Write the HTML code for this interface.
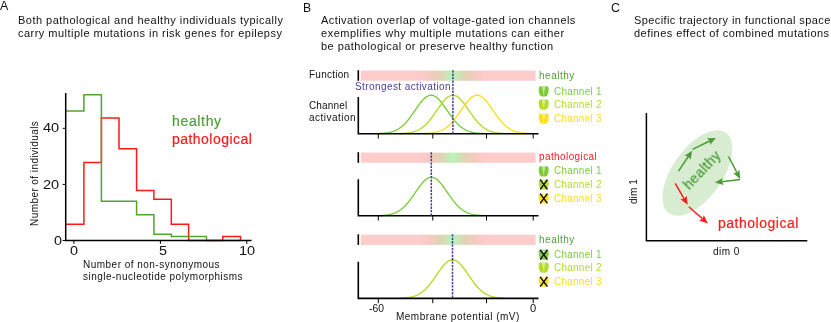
<!DOCTYPE html>
<html><head><meta charset="utf-8"><title>Figure</title>
<style>
html,body{margin:0;padding:0;background:#fff;}
body{width:831px;height:322px;position:relative;overflow:hidden;font-family:"Liberation Sans",sans-serif;}
.t{position:absolute;white-space:nowrap;line-height:normal;will-change:transform;font-family:"Liberation Sans",sans-serif;}
</style></head><body>
<svg width="831" height="322" viewBox="0 0 831 322" style="position:absolute;left:0;top:0">
<defs><linearGradient id="fg" gradientUnits="userSpaceOnUse" x1="412.7" y1="0" x2="492.7" y2="0">
<stop offset="0.0000" stop-color="rgb(255, 204, 204)"/>
<stop offset="0.0250" stop-color="rgb(255, 204, 204)"/>
<stop offset="0.1000" stop-color="rgb(254, 203, 203)"/>
<stop offset="0.1500" stop-color="rgb(251, 202, 200)"/>
<stop offset="0.2000" stop-color="rgb(246, 202, 195)"/>
<stop offset="0.2500" stop-color="rgb(240, 204, 190)"/>
<stop offset="0.3000" stop-color="rgb(232, 207, 185)"/>
<stop offset="0.3500" stop-color="rgb(222, 212, 182)"/>
<stop offset="0.4000" stop-color="rgb(213, 222, 182)"/>
<stop offset="0.4500" stop-color="rgb(198, 232, 184)"/>
<stop offset="0.4750" stop-color="rgb(188, 240, 185)"/>
<stop offset="0.5000" stop-color="rgb(178, 248, 186)"/>
<stop offset="0.5250" stop-color="rgb(188, 240, 185)"/>
<stop offset="0.5500" stop-color="rgb(198, 232, 184)"/>
<stop offset="0.6000" stop-color="rgb(213, 222, 182)"/>
<stop offset="0.6500" stop-color="rgb(222, 212, 182)"/>
<stop offset="0.7000" stop-color="rgb(232, 207, 185)"/>
<stop offset="0.7500" stop-color="rgb(240, 204, 190)"/>
<stop offset="0.8000" stop-color="rgb(246, 202, 195)"/>
<stop offset="0.8500" stop-color="rgb(251, 202, 200)"/>
<stop offset="0.9000" stop-color="rgb(254, 203, 203)"/>
<stop offset="0.9750" stop-color="rgb(255, 204, 204)"/>
<stop offset="1.0000" stop-color="rgb(255, 204, 204)"/>
</linearGradient></defs>
<path d="M66.00,224.23 L66.00,224.23 L83.90,224.23 L83.90,162.52 L101.40,162.52 L101.40,117.92 L119.00,117.92 L119.00,148.78 L136.60,148.78 L136.60,190.57 L153.90,190.57 L153.90,199.27 L171.30,199.27 L171.30,224.23 L188.60,224.23 L188.60,240.50 L206.50,240.50 L206.50,240.50 L222.80,240.50 L222.80,236.57 L240.50,236.57 L240.5,240.5" fill="none" stroke="#ff1a1a" stroke-width="1.5" stroke-linejoin="miter"/>
<path d="M66.00,110.91 L66.00,110.91 L83.90,110.91 L83.90,94.64 L101.40,94.64 L101.40,201.23 L119.00,201.23 L119.00,201.23 L136.60,201.23 L136.60,214.69 L153.90,214.69 L153.90,234.33 L171.30,234.33 L171.30,236.57 L188.60,236.57 L188.60,236.57 L206.50,236.57 L206.50,240.50 L222.80,240.50 L222.80,240.50 L240.50,240.50" fill="none" stroke="#54a234" stroke-width="1.5" stroke-linejoin="miter"/>
<path d="M65.7,93 L65.7,241.2 M65,240.5 L251.5,240.5" stroke="#000" stroke-width="1.5" fill="none"/>
<line x1="62.6" y1="128.3" x2="65.7" y2="128.3" stroke="#000" stroke-width="1"/>
<line x1="62.6" y1="184.4" x2="65.7" y2="184.4" stroke="#000" stroke-width="1"/>
<line x1="62.6" y1="240.5" x2="65.7" y2="240.5" stroke="#000" stroke-width="1"/>
<line x1="73.9" y1="240.5" x2="73.9" y2="243.9" stroke="#000" stroke-width="1"/>
<line x1="160.4" y1="240.5" x2="160.4" y2="243.9" stroke="#000" stroke-width="1"/>
<line x1="246.8" y1="240.5" x2="246.8" y2="243.9" stroke="#000" stroke-width="1"/>
<rect x="360.8" y="70.60" width="174.8" height="10.15" fill="url(#fg)"/>
<line x1="358.3" y1="70.20" x2="358.3" y2="80.80" stroke="#000" stroke-width="1.6"/>
<path d="M378.3,133.53 L379.3,133.50 L380.3,133.45 L381.3,133.40 L382.3,133.33 L383.3,133.26 L384.3,133.17 L385.3,133.06 L386.3,132.94 L387.3,132.79 L388.3,132.62 L389.3,132.43 L390.3,132.21 L391.3,131.95 L392.3,131.67 L393.3,131.34 L394.3,130.97 L395.3,130.55 L396.3,130.08 L397.3,129.57 L398.3,128.99 L399.3,128.36 L400.3,127.66 L401.3,126.90 L402.3,126.08 L403.3,125.19 L404.3,124.23 L405.3,123.21 L406.3,122.12 L407.3,120.97 L408.3,119.75 L409.3,118.48 L410.3,117.16 L411.3,115.80 L412.3,114.40 L413.3,112.96 L414.3,111.52 L415.3,110.06 L416.3,108.60 L417.3,107.16 L418.3,105.74 L419.3,104.37 L420.3,103.04 L421.3,101.78 L422.3,100.60 L423.3,99.51 L424.3,98.52 L425.3,97.65 L426.3,96.89 L427.3,96.27 L428.3,95.79 L429.3,95.44 L430.3,95.25 L431.3,95.20 L432.3,95.31 L433.3,95.56 L434.3,95.96 L435.3,96.50 L436.3,97.18 L437.3,97.98 L438.3,98.91 L439.3,99.94 L440.3,101.07 L441.3,102.28 L442.3,103.57 L443.3,104.91 L444.3,106.31 L445.3,107.73 L446.3,109.18 L447.3,110.64 L448.3,112.10 L449.3,113.54 L450.3,114.96 L451.3,116.35 L452.3,117.70 L453.3,119.00 L454.3,120.24 L455.3,121.43 L456.3,122.56 L457.3,123.63 L458.3,124.62 L459.3,125.55 L460.3,126.42 L461.3,127.22 L462.3,127.95 L463.3,128.62 L464.3,129.23 L465.3,129.78 L466.3,130.28 L467.3,130.72 L468.3,131.12 L469.3,131.47 L470.3,131.79 L471.3,132.06 L472.3,132.30 L473.3,132.51 L474.3,132.69 L475.3,132.85 L476.3,132.99 L477.3,133.10 L478.3,133.20 L479.3,133.29 L480.3,133.36 L481.3,133.42 L482.3,133.47 L483.3,133.51" fill="none" stroke="#7dcd3c" stroke-width="1.4"/>
<path d="M400.1,133.53 L401.1,133.50 L402.1,133.45 L403.1,133.40 L404.1,133.33 L405.1,133.26 L406.1,133.17 L407.1,133.06 L408.1,132.94 L409.1,132.79 L410.1,132.62 L411.1,132.43 L412.1,132.21 L413.1,131.95 L414.1,131.67 L415.1,131.34 L416.1,130.97 L417.1,130.55 L418.1,130.08 L419.1,129.57 L420.1,128.99 L421.1,128.36 L422.1,127.66 L423.1,126.90 L424.1,126.08 L425.1,125.19 L426.1,124.23 L427.1,123.21 L428.1,122.12 L429.1,120.97 L430.1,119.75 L431.1,118.48 L432.1,117.16 L433.1,115.80 L434.1,114.40 L435.1,112.96 L436.1,111.52 L437.1,110.06 L438.1,108.60 L439.1,107.16 L440.1,105.74 L441.1,104.37 L442.1,103.04 L443.1,101.78 L444.1,100.60 L445.1,99.51 L446.1,98.52 L447.1,97.65 L448.1,96.89 L449.1,96.27 L450.1,95.79 L451.1,95.44 L452.1,95.25 L453.1,95.20 L454.1,95.31 L455.1,95.56 L456.1,95.96 L457.1,96.50 L458.1,97.18 L459.1,97.98 L460.1,98.91 L461.1,99.94 L462.1,101.07 L463.1,102.28 L464.1,103.57 L465.1,104.91 L466.1,106.31 L467.1,107.73 L468.1,109.18 L469.1,110.64 L470.1,112.10 L471.1,113.54 L472.1,114.96 L473.1,116.35 L474.1,117.70 L475.1,119.00 L476.1,120.24 L477.1,121.43 L478.1,122.56 L479.1,123.63 L480.1,124.62 L481.1,125.55 L482.1,126.42 L483.1,127.22 L484.1,127.95 L485.1,128.62 L486.1,129.23 L487.1,129.78 L488.1,130.28 L489.1,130.72 L490.1,131.12 L491.1,131.47 L492.1,131.79 L493.1,132.06 L494.1,132.30 L495.1,132.51 L496.1,132.69 L497.1,132.85 L498.1,132.99 L499.1,133.10 L500.1,133.20 L501.1,133.29 L502.1,133.36 L503.1,133.42 L504.1,133.47 L505.1,133.51" fill="none" stroke="#b4dc28" stroke-width="1.4"/>
<path d="M424.2,133.53 L425.2,133.50 L426.2,133.45 L427.2,133.40 L428.2,133.33 L429.2,133.26 L430.2,133.17 L431.2,133.06 L432.2,132.94 L433.2,132.79 L434.2,132.62 L435.2,132.43 L436.2,132.21 L437.2,131.95 L438.2,131.67 L439.2,131.34 L440.2,130.97 L441.2,130.55 L442.2,130.08 L443.2,129.57 L444.2,128.99 L445.2,128.36 L446.2,127.66 L447.2,126.90 L448.2,126.08 L449.2,125.19 L450.2,124.23 L451.2,123.21 L452.2,122.12 L453.2,120.97 L454.2,119.75 L455.2,118.48 L456.2,117.16 L457.2,115.80 L458.2,114.40 L459.2,112.96 L460.2,111.52 L461.2,110.06 L462.2,108.60 L463.2,107.16 L464.2,105.74 L465.2,104.37 L466.2,103.04 L467.2,101.78 L468.2,100.60 L469.2,99.51 L470.2,98.52 L471.2,97.65 L472.2,96.89 L473.2,96.27 L474.2,95.79 L475.2,95.44 L476.2,95.25 L477.2,95.20 L478.2,95.31 L479.2,95.56 L480.2,95.96 L481.2,96.50 L482.2,97.18 L483.2,97.98 L484.2,98.91 L485.2,99.94 L486.2,101.07 L487.2,102.28 L488.2,103.57 L489.2,104.91 L490.2,106.31 L491.2,107.73 L492.2,109.18 L493.2,110.64 L494.2,112.10 L495.2,113.54 L496.2,114.96 L497.2,116.35 L498.2,117.70 L499.2,119.00 L500.2,120.24 L501.2,121.43 L502.2,122.56 L503.2,123.63 L504.2,124.62 L505.2,125.55 L506.2,126.42 L507.2,127.22 L508.2,127.95 L509.2,128.62 L510.2,129.23 L511.2,129.78 L512.2,130.28 L513.2,130.72 L514.2,131.12 L515.2,131.47 L516.2,131.79 L517.2,132.06 L518.2,132.30 L519.2,132.51 L520.2,132.69 L521.2,132.85 L522.2,132.99 L523.2,133.10 L524.2,133.20 L525.2,133.29 L526.2,133.36 L527.2,133.42 L528.2,133.47 L529.2,133.51" fill="none" stroke="#fbe01e" stroke-width="1.4"/>
<path d="M358.3,97.10 L358.3,134.50 M357.5,133.70 L538.5,133.70" stroke="#000" stroke-width="1.6" fill="none"/>
<line x1="378.3" y1="133.70" x2="378.3" y2="138.50" stroke="#000" stroke-width="1"/>
<line x1="432.8" y1="133.70" x2="432.8" y2="138.50" stroke="#000" stroke-width="1"/>
<line x1="486.5" y1="133.70" x2="486.5" y2="138.50" stroke="#000" stroke-width="1"/>
<line x1="533.2" y1="133.70" x2="533.2" y2="138.50" stroke="#000" stroke-width="1"/>
<line x1="452.9" y1="70.20" x2="452.9" y2="133.70" stroke="#463a93" stroke-width="1.5" stroke-dasharray="2.3 1.1"/>
<rect x="360.8" y="152.60" width="174.8" height="10.15" fill="url(#fg)"/>
<line x1="358.3" y1="152.20" x2="358.3" y2="162.80" stroke="#000" stroke-width="1.6"/>
<path d="M378.6,215.63 L379.6,215.60 L380.6,215.55 L381.6,215.50 L382.6,215.43 L383.6,215.36 L384.6,215.27 L385.6,215.16 L386.6,215.04 L387.6,214.89 L388.6,214.72 L389.6,214.53 L390.6,214.31 L391.6,214.05 L392.6,213.77 L393.6,213.44 L394.6,213.07 L395.6,212.65 L396.6,212.18 L397.6,211.67 L398.6,211.09 L399.6,210.46 L400.6,209.76 L401.6,209.00 L402.6,208.18 L403.6,207.29 L404.6,206.33 L405.6,205.31 L406.6,204.22 L407.6,203.07 L408.6,201.85 L409.6,200.58 L410.6,199.26 L411.6,197.90 L412.6,196.50 L413.6,195.06 L414.6,193.62 L415.6,192.16 L416.6,190.70 L417.6,189.26 L418.6,187.84 L419.6,186.47 L420.6,185.14 L421.6,183.88 L422.6,182.70 L423.6,181.61 L424.6,180.62 L425.6,179.75 L426.6,178.99 L427.6,178.37 L428.6,177.89 L429.6,177.54 L430.6,177.35 L431.6,177.30 L432.6,177.41 L433.6,177.66 L434.6,178.06 L435.6,178.60 L436.6,179.28 L437.6,180.08 L438.6,181.01 L439.6,182.04 L440.6,183.17 L441.6,184.38 L442.6,185.67 L443.6,187.01 L444.6,188.41 L445.6,189.83 L446.6,191.28 L447.6,192.74 L448.6,194.20 L449.6,195.64 L450.6,197.06 L451.6,198.45 L452.6,199.80 L453.6,201.10 L454.6,202.34 L455.6,203.53 L456.6,204.66 L457.6,205.73 L458.6,206.72 L459.6,207.65 L460.6,208.52 L461.6,209.32 L462.6,210.05 L463.6,210.72 L464.6,211.33 L465.6,211.88 L466.6,212.38 L467.6,212.82 L468.6,213.22 L469.6,213.57 L470.6,213.89 L471.6,214.16 L472.6,214.40 L473.6,214.61 L474.6,214.79 L475.6,214.95 L476.6,215.09 L477.6,215.20 L478.6,215.30 L479.6,215.39 L480.6,215.46 L481.6,215.52 L482.6,215.57 L483.6,215.61" fill="none" stroke="#7dcd3c" stroke-width="1.4"/>
<path d="M358.3,179.20 L358.3,216.60 M357.5,215.80 L538.5,215.80" stroke="#000" stroke-width="1.6" fill="none"/>
<line x1="378.3" y1="215.80" x2="378.3" y2="220.60" stroke="#000" stroke-width="1"/>
<line x1="432.8" y1="215.80" x2="432.8" y2="220.60" stroke="#000" stroke-width="1"/>
<line x1="486.5" y1="215.80" x2="486.5" y2="220.60" stroke="#000" stroke-width="1"/>
<line x1="533.2" y1="215.80" x2="533.2" y2="220.60" stroke="#000" stroke-width="1"/>
<line x1="431.3" y1="152.20" x2="431.3" y2="215.80" stroke="#463a93" stroke-width="1.5" stroke-dasharray="2.3 1.1"/>
<rect x="360.8" y="234.70" width="174.8" height="10.15" fill="url(#fg)"/>
<line x1="358.3" y1="234.30" x2="358.3" y2="244.90" stroke="#000" stroke-width="1.6"/>
<path d="M399.7,298.23 L400.7,298.20 L401.7,298.15 L402.7,298.10 L403.7,298.03 L404.7,297.96 L405.7,297.87 L406.7,297.76 L407.7,297.64 L408.7,297.49 L409.7,297.32 L410.7,297.13 L411.7,296.91 L412.7,296.65 L413.7,296.37 L414.7,296.04 L415.7,295.67 L416.7,295.25 L417.7,294.78 L418.7,294.27 L419.7,293.69 L420.7,293.06 L421.7,292.36 L422.7,291.60 L423.7,290.78 L424.7,289.89 L425.7,288.93 L426.7,287.91 L427.7,286.82 L428.7,285.67 L429.7,284.45 L430.7,283.18 L431.7,281.86 L432.7,280.50 L433.7,279.10 L434.7,277.66 L435.7,276.22 L436.7,274.76 L437.7,273.30 L438.7,271.86 L439.7,270.44 L440.7,269.07 L441.7,267.74 L442.7,266.48 L443.7,265.30 L444.7,264.21 L445.7,263.22 L446.7,262.35 L447.7,261.59 L448.7,260.97 L449.7,260.49 L450.7,260.14 L451.7,259.95 L452.7,259.90 L453.7,260.01 L454.7,260.26 L455.7,260.66 L456.7,261.20 L457.7,261.88 L458.7,262.68 L459.7,263.61 L460.7,264.64 L461.7,265.77 L462.7,266.98 L463.7,268.27 L464.7,269.61 L465.7,271.01 L466.7,272.43 L467.7,273.88 L468.7,275.34 L469.7,276.80 L470.7,278.24 L471.7,279.66 L472.7,281.05 L473.7,282.40 L474.7,283.70 L475.7,284.94 L476.7,286.13 L477.7,287.26 L478.7,288.33 L479.7,289.32 L480.7,290.25 L481.7,291.12 L482.7,291.92 L483.7,292.65 L484.7,293.32 L485.7,293.93 L486.7,294.48 L487.7,294.98 L488.7,295.42 L489.7,295.82 L490.7,296.17 L491.7,296.49 L492.7,296.76 L493.7,297.00 L494.7,297.21 L495.7,297.39 L496.7,297.55 L497.7,297.69 L498.7,297.80 L499.7,297.90 L500.7,297.99 L501.7,298.06 L502.7,298.12 L503.7,298.17 L504.7,298.21" fill="none" stroke="#b4dc28" stroke-width="1.4"/>
<path d="M358.3,261.80 L358.3,299.20 M357.5,298.40 L538.5,298.40" stroke="#000" stroke-width="1.6" fill="none"/>
<line x1="378.3" y1="298.40" x2="378.3" y2="303.20" stroke="#000" stroke-width="1"/>
<line x1="432.8" y1="298.40" x2="432.8" y2="303.20" stroke="#000" stroke-width="1"/>
<line x1="486.5" y1="298.40" x2="486.5" y2="303.20" stroke="#000" stroke-width="1"/>
<line x1="533.2" y1="298.40" x2="533.2" y2="303.20" stroke="#000" stroke-width="1"/>
<line x1="452.5" y1="234.30" x2="452.5" y2="298.40" stroke="#463a93" stroke-width="1.5" stroke-dasharray="2.3 1.1"/>
<g transform="translate(538.40,86.20) scale(1,0.98)"><path d="M0.3,2.3 Q0.3,0.1 2.5,0.1 L8.1,0.1 Q10.3,0.1 10.3,2.3 Q10.5,6 9.3,8.8 Q8.6,10.5 7.0,10.5 L3.6,10.5 Q2.0,10.5 1.3,8.8 Q0.1,6 0.3,2.3 Z" fill="#7dcd3c"/><path d="M3.5,0.1 L7.1,0.1 L5.55,7.6 L5.05,7.6 Z" fill="#fff" fill-opacity="0.5"/><path d="M5.3,7.2 L5.3,10.5" stroke="#fff" stroke-opacity="0.35" stroke-width="0.6" fill="none"/></g>
<g transform="translate(538.40,99.50) scale(1,0.98)"><path d="M0.3,2.3 Q0.3,0.1 2.5,0.1 L8.1,0.1 Q10.3,0.1 10.3,2.3 Q10.5,6 9.3,8.8 Q8.6,10.5 7.0,10.5 L3.6,10.5 Q2.0,10.5 1.3,8.8 Q0.1,6 0.3,2.3 Z" fill="#b4dc28"/><path d="M3.5,0.1 L7.1,0.1 L5.55,7.6 L5.05,7.6 Z" fill="#fff" fill-opacity="0.5"/><path d="M5.3,7.2 L5.3,10.5" stroke="#fff" stroke-opacity="0.35" stroke-width="0.6" fill="none"/></g>
<g transform="translate(538.40,113.40) scale(1,0.98)"><path d="M0.3,2.3 Q0.3,0.1 2.5,0.1 L8.1,0.1 Q10.3,0.1 10.3,2.3 Q10.5,6 9.3,8.8 Q8.6,10.5 7.0,10.5 L3.6,10.5 Q2.0,10.5 1.3,8.8 Q0.1,6 0.3,2.3 Z" fill="#fbe01e"/><path d="M3.5,0.1 L7.1,0.1 L5.55,7.6 L5.05,7.6 Z" fill="#fff" fill-opacity="0.5"/><path d="M5.3,7.2 L5.3,10.5" stroke="#fff" stroke-opacity="0.35" stroke-width="0.6" fill="none"/></g>
<g transform="translate(538.40,166.20) scale(1,0.98)"><path d="M0.3,2.3 Q0.3,0.1 2.5,0.1 L8.1,0.1 Q10.3,0.1 10.3,2.3 Q10.5,6 9.3,8.8 Q8.6,10.5 7.0,10.5 L3.6,10.5 Q2.0,10.5 1.3,8.8 Q0.1,6 0.3,2.3 Z" fill="#7dcd3c"/><path d="M3.5,0.1 L7.1,0.1 L5.55,7.6 L5.05,7.6 Z" fill="#fff" fill-opacity="0.5"/><path d="M5.3,7.2 L5.3,10.5" stroke="#fff" stroke-opacity="0.35" stroke-width="0.6" fill="none"/></g>
<g transform="translate(538.40,179.30) scale(1,0.98)"><path d="M0.3,2.3 Q0.3,0.1 2.5,0.1 L8.1,0.1 Q10.3,0.1 10.3,2.3 Q10.5,6 9.3,8.8 Q8.6,10.5 7.0,10.5 L3.6,10.5 Q2.0,10.5 1.3,8.8 Q0.1,6 0.3,2.3 Z" fill="#b4dc28"/><path d="M3.5,0.1 L7.1,0.1 L5.55,7.6 L5.05,7.6 Z" fill="#fff" fill-opacity="0.5"/><path d="M5.3,7.2 L5.3,10.5" stroke="#fff" stroke-opacity="0.35" stroke-width="0.6" fill="none"/><path d="M1.8,0.3 L9.0,10.3 M9.0,0.3 L1.8,10.3" stroke="#000" stroke-width="1.35" fill="none"/></g>
<g transform="translate(538.40,193.30) scale(1,0.98)"><path d="M0.3,2.3 Q0.3,0.1 2.5,0.1 L8.1,0.1 Q10.3,0.1 10.3,2.3 Q10.5,6 9.3,8.8 Q8.6,10.5 7.0,10.5 L3.6,10.5 Q2.0,10.5 1.3,8.8 Q0.1,6 0.3,2.3 Z" fill="#fbe01e"/><path d="M3.5,0.1 L7.1,0.1 L5.55,7.6 L5.05,7.6 Z" fill="#fff" fill-opacity="0.5"/><path d="M5.3,7.2 L5.3,10.5" stroke="#fff" stroke-opacity="0.35" stroke-width="0.6" fill="none"/><path d="M1.8,0.3 L9.0,10.3 M9.0,0.3 L1.8,10.3" stroke="#000" stroke-width="1.35" fill="none"/></g>
<g transform="translate(538.40,249.50) scale(1,0.98)"><path d="M0.3,2.3 Q0.3,0.1 2.5,0.1 L8.1,0.1 Q10.3,0.1 10.3,2.3 Q10.5,6 9.3,8.8 Q8.6,10.5 7.0,10.5 L3.6,10.5 Q2.0,10.5 1.3,8.8 Q0.1,6 0.3,2.3 Z" fill="#7dcd3c"/><path d="M3.5,0.1 L7.1,0.1 L5.55,7.6 L5.05,7.6 Z" fill="#fff" fill-opacity="0.5"/><path d="M5.3,7.2 L5.3,10.5" stroke="#fff" stroke-opacity="0.35" stroke-width="0.6" fill="none"/><path d="M1.8,0.3 L9.0,10.3 M9.0,0.3 L1.8,10.3" stroke="#000" stroke-width="1.35" fill="none"/></g>
<g transform="translate(538.40,262.50) scale(1,0.98)"><path d="M0.3,2.3 Q0.3,0.1 2.5,0.1 L8.1,0.1 Q10.3,0.1 10.3,2.3 Q10.5,6 9.3,8.8 Q8.6,10.5 7.0,10.5 L3.6,10.5 Q2.0,10.5 1.3,8.8 Q0.1,6 0.3,2.3 Z" fill="#b4dc28"/><path d="M3.5,0.1 L7.1,0.1 L5.55,7.6 L5.05,7.6 Z" fill="#fff" fill-opacity="0.5"/><path d="M5.3,7.2 L5.3,10.5" stroke="#fff" stroke-opacity="0.35" stroke-width="0.6" fill="none"/></g>
<g transform="translate(538.40,276.50) scale(1,0.98)"><path d="M0.3,2.3 Q0.3,0.1 2.5,0.1 L8.1,0.1 Q10.3,0.1 10.3,2.3 Q10.5,6 9.3,8.8 Q8.6,10.5 7.0,10.5 L3.6,10.5 Q2.0,10.5 1.3,8.8 Q0.1,6 0.3,2.3 Z" fill="#fbe01e"/><path d="M3.5,0.1 L7.1,0.1 L5.55,7.6 L5.05,7.6 Z" fill="#fff" fill-opacity="0.5"/><path d="M5.3,7.2 L5.3,10.5" stroke="#fff" stroke-opacity="0.35" stroke-width="0.6" fill="none"/><path d="M1.8,0.3 L9.0,10.3 M9.0,0.3 L1.8,10.3" stroke="#000" stroke-width="1.35" fill="none"/></g>
<ellipse cx="0" cy="0" rx="49.3" ry="24.9" transform="translate(697.4,173.0) rotate(-54.7)" fill="#d7ecd0"/>
<path d="M646.4,113 L646.4,241.5 M645.7,240.8 L807.3,240.8" stroke="#000" stroke-width="1.5" fill="none"/>
<line x1="678.50" y1="171.10" x2="688.30" y2="156.51" stroke="#4a9a35" stroke-width="1.5"/><polygon points="692.20,150.70 690.51,159.68 688.30,156.51 684.53,155.67" fill="#4a9a35"/>
<line x1="692.60" y1="149.30" x2="709.71" y2="140.97" stroke="#4a9a35" stroke-width="1.5"/><polygon points="716.00,137.90 710.03,144.82 709.71,140.97 706.87,138.34" fill="#4a9a35"/>
<line x1="728.50" y1="156.50" x2="736.96" y2="172.70" stroke="#4a9a35" stroke-width="1.5"/><polygon points="740.20,178.90 733.12,173.12 736.96,172.70 739.50,169.79" fill="#4a9a35"/>
<line x1="740.20" y1="179.40" x2="721.85" y2="181.65" stroke="#4a9a35" stroke-width="1.5"/><polygon points="714.90,182.50 722.80,177.91 721.85,181.65 723.68,185.05" fill="#4a9a35"/>
<line x1="675.20" y1="183.40" x2="684.17" y2="198.76" stroke="#ff1a1a" stroke-width="1.5"/><polygon points="687.70,204.80 680.35,199.36 684.17,198.76 686.57,195.73" fill="#ff1a1a"/>
<line x1="688.80" y1="206.70" x2="702.54" y2="218.78" stroke="#ff1a1a" stroke-width="1.5"/><polygon points="707.80,223.40 699.11,220.56 702.54,218.78 703.87,215.15" fill="#ff1a1a"/>
</svg>
<div class="t" id="t0" style="font-size:12.4px;color:#111;letter-spacing:0.000px;left:0.10px;top:-1.00px;">A</div>
<div class="t" id="t1" style="font-size:12.2px;color:#111;letter-spacing:0.000px;left:302.70px;top:1.00px;">B</div>
<div class="t" id="t2" style="font-size:12.4px;color:#111;letter-spacing:0.000px;left:610.80px;top:1.00px;">C</div>
<div class="t" id="t3" style="font-size:11px;color:#111;letter-spacing:0.479px;left:18.10px;top:14.00px;">Both pathological and healthy individuals typically</div>
<div class="t" id="t4" style="font-size:11px;color:#111;letter-spacing:0.473px;left:17.90px;top:27.00px;">carry multiple mutations in risk genes for epilepsy</div>
<div class="t" id="t5" style="font-size:11px;color:#111;letter-spacing:0.441px;left:320.80px;top:14.00px;">Activation overlap of voltage-gated ion channels</div>
<div class="t" id="t6" style="font-size:11px;color:#111;letter-spacing:0.509px;left:320.80px;top:27.00px;">exemplifies why multiple mutations can either</div>
<div class="t" id="t7" style="font-size:11px;color:#111;letter-spacing:0.451px;left:321.20px;top:40.00px;">be pathological or preserve healthy function</div>
<div class="t" id="t8" style="font-size:11px;color:#111;letter-spacing:0.403px;left:634.00px;top:14.00px;">Specific trajectory in functional space</div>
<div class="t" id="t9" style="font-size:11px;color:#111;letter-spacing:0.461px;left:634.00px;top:27.00px;">defines effect of combined mutations</div>
<div class="t" id="t10" style="font-size:14.0px;color:#4fa033;letter-spacing:0.659px;-webkit-text-stroke:0.2px #4fa033;left:171.50px;top:113.00px;">healthy</div>
<div class="t" id="t11" style="font-size:14.0px;color:#ff1a1a;letter-spacing:0.461px;-webkit-text-stroke:0.2px #ff1a1a;left:171.90px;top:131.00px;">pathological</div>
<div class="t" id="t12" style="font-size:12.4px;color:#111;letter-spacing:0;left:43.00px;top:121.00px;transform-origin:0 0;transform:scaleX(1.1754);">40</div>
<div class="t" id="t13" style="font-size:12.4px;color:#111;letter-spacing:0;left:43.00px;top:178.00px;transform-origin:0 0;transform:scaleX(1.1754);">20</div>
<div class="t" id="t14" style="font-size:12.4px;color:#111;letter-spacing:0;left:54.00px;top:234.00px;transform-origin:0 0;transform:scaleX(1.1609);">0</div>
<div class="t" id="t15" style="font-size:12.4px;color:#111;letter-spacing:0;left:70.40px;top:244.00px;transform-origin:0 0;transform:scaleX(1.1609);">0</div>
<div class="t" id="t16" style="font-size:12.4px;color:#111;letter-spacing:0;left:158.90px;top:244.00px;transform-origin:0 0;transform:scaleX(1.1609);">5</div>
<div class="t" id="t17" style="font-size:12.4px;color:#111;letter-spacing:0;left:239.00px;top:244.00px;transform-origin:0 0;transform:scaleX(1.1754);">10</div>
<div class="t" id="t18" style="font-size:10px;color:#111;letter-spacing:0.478px;left:82.70px;top:259.00px;">Number of non-synonymous</div>
<div class="t" id="t19" style="font-size:10px;color:#111;letter-spacing:0.484px;left:83.40px;top:271.00px;">single-nucleotide polymorphisms</div>
<div class="t" id="t20" style="font-size:10px;color:#111;letter-spacing:0.432px;left:28.55px;top:225.70px;transform-origin:0 0;transform:rotate(-90deg);">Number of individuals</div>
<div class="t" id="t21" style="font-size:10px;color:#111;letter-spacing:0.235px;left:309.00px;top:69.00px;">Function</div>
<div class="t" id="t22" style="font-size:10px;color:#111;letter-spacing:0.142px;left:309.00px;top:100.00px;">Channel</div>
<div class="t" id="t23" style="font-size:10px;color:#111;letter-spacing:0.484px;left:309.00px;top:112.00px;">activation</div>
<div class="t" id="t24" style="font-size:10px;color:#4a3f98;letter-spacing:0.409px;left:354.70px;top:81.00px;">Strongest activation</div>
<div class="t" id="t25" style="font-size:10px;color:#4fa033;letter-spacing:0.509px;left:539.40px;top:70.00px;">healthy</div>
<div class="t" id="t26" style="font-size:10px;color:#ff1a1a;letter-spacing:0.402px;left:539.20px;top:151.00px;">pathological</div>
<div class="t" id="t27" style="font-size:10px;color:#4fa033;letter-spacing:0.509px;left:539.40px;top:234.00px;">healthy</div>
<div class="t" id="t28" style="font-size:10px;color:#7dcd3c;letter-spacing:0.239px;left:553.50px;top:86.00px;">Channel 1</div>
<div class="t" id="t29" style="font-size:10px;color:#b4dc28;letter-spacing:0.239px;left:553.50px;top:99.00px;">Channel 2</div>
<div class="t" id="t30" style="font-size:10px;color:#fbe01e;letter-spacing:0.239px;left:553.50px;top:113.00px;">Channel 3</div>
<div class="t" id="t31" style="font-size:10px;color:#7dcd3c;letter-spacing:0.239px;left:553.50px;top:165.00px;">Channel 1</div>
<div class="t" id="t32" style="font-size:10px;color:#b4dc28;letter-spacing:0.239px;left:553.50px;top:179.00px;">Channel 2</div>
<div class="t" id="t33" style="font-size:10px;color:#fbe01e;letter-spacing:0.239px;left:553.50px;top:193.00px;">Channel 3</div>
<div class="t" id="t34" style="font-size:10px;color:#7dcd3c;letter-spacing:0.239px;left:553.50px;top:249.00px;">Channel 1</div>
<div class="t" id="t35" style="font-size:10px;color:#b4dc28;letter-spacing:0.239px;left:553.50px;top:262.00px;">Channel 2</div>
<div class="t" id="t36" style="font-size:10px;color:#fbe01e;letter-spacing:0.239px;left:553.50px;top:276.00px;">Channel 3</div>
<div class="t" id="t37" style="font-size:10px;color:#111;letter-spacing:0;left:368.60px;top:303.00px;transform-origin:0 0;transform:scaleX(1.0378);">-60</div>
<div class="t" id="t38" style="font-size:10px;color:#111;letter-spacing:0;left:529.90px;top:303.00px;transform-origin:0 0;transform:scaleX(1.1148);">0</div>
<div class="t" id="t39" style="font-size:10px;color:#111;letter-spacing:0.476px;left:396.40px;top:311.00px;">Membrane potential (mV)</div>
<div class="t" id="t40" style="font-size:14.0px;color:#ff1a1a;letter-spacing:0.507px;-webkit-text-stroke:0.2px #ff1a1a;left:717.60px;top:215.00px;">pathological</div>
<div class="t" id="t41" style="font-size:10px;color:#111;letter-spacing:0.437px;left:713.00px;top:246.00px;">dim 0</div>
<div class="t" id="t42" style="font-size:10px;color:#111;letter-spacing:0.062px;left:628.25px;top:203.90px;transform-origin:0 0;transform:rotate(-90deg);">dim 1</div>
<div class="t" id="t43" style="font-size:13.8px;color:#4a9a35;letter-spacing:0.418px;left:0;top:0;transform-origin:0 0;-webkit-text-stroke:0.2px #4a9a35;transform:translate(689.6px,190.8px) rotate(-46.5deg) translate(0,-12.49px);">healthy</div>
</body></html>
